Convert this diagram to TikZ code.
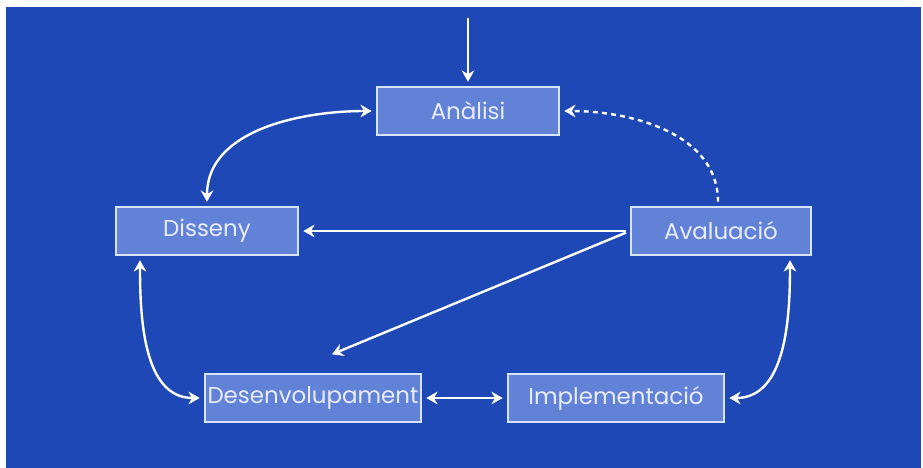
\documentclass[tikz,border=0pt]{standalone}
\usepackage{fontspec}
\usepackage{tikz}
\usetikzlibrary{arrows.meta}
\usetikzlibrary{calc,positioning}
\newfontfamily\stagefont{Poppins}

\definecolor{bgblue}{RGB}{30,72,182}
\definecolor{boxfill}{RGB}{98,130,216}
\definecolor{boxline}{RGB}{214,228,255}
\definecolor{boxtext}{RGB}{232,238,255}

\tikzset{
    stage/.style={draw=boxline, fill=boxfill, line width=1.5pt, text=boxtext,
        minimum height=1.2cm, inner sep=0pt,
        font=\stagefont\fontsize{16.3}{19}\selectfont},
    flow/.style={white, line width=1.7pt, -{Stealth[length=8pt,width=9pt]},
        shorten >=3pt, shorten <=3pt},
    both/.style={flow, {Stealth[length=8pt,width=9pt]}-{Stealth[length=8pt,width=9pt]}},
}

\begin{document}
\begin{tikzpicture}[x=0.025cm, y=-0.025cm]

    \useasboundingbox (0,0) rectangle (923,468);
    \fill[white] (0,0) rectangle (923,468);
    \fill[bgblue] (6,7) rectangle (921,468);

    \node[stage, minimum width=4.55cm] (ana) at (468,111) {Anàlisi};
    \node[stage, minimum width=4.55cm] (dis) at (207,231) {Disseny};
    \node[stage, minimum width=4.5cm] (ava) at (721,231) {Avaluació};
    \node[stage, minimum width=5.4cm] (des) at (313,398) {Desenvolupament};
    \node[stage, minimum width=5.4cm] (imp) at (616,398) {Implementació};

    \coordinate (start) at (468,14);
    \draw[flow] (start) -- (ana.north);

    \draw[both] (dis.north) to[out=90, in=180] (ana.west);
    \draw[flow, dash pattern=on 3.5pt off 3pt] ($(ava.north)+(-3,0)$) to[out=90, in=0] (ana.east);

    \draw[flow] (ava.west) -- (dis.east);
    \draw[flow] (ava.west) -- ($(des.north)+(15,-17)$);

    \draw[both] ($(dis.south)+(-67,0)$) to[out=-90, in=180] (des.west);
    \draw[both] (des.east) -- (imp.west);
    \draw[both] (imp.east) to[out=0, in=-90] ($(ava.south)+(69,0)$);

\end{tikzpicture}
\end{document}
